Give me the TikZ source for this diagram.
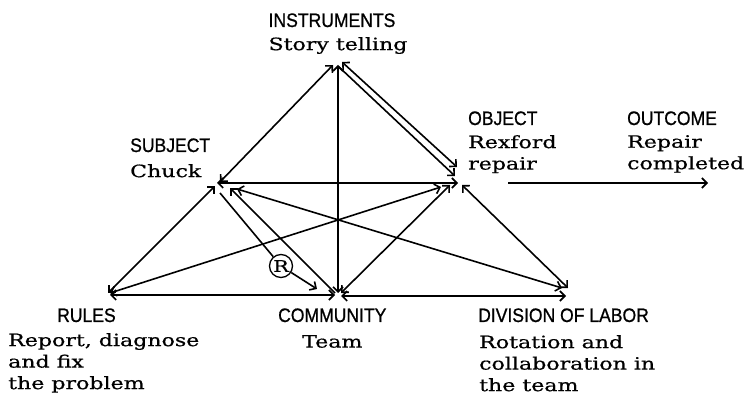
\documentclass[tikz,border=0pt]{standalone}
\usepackage{fontspec}
\setmainfont{DejaVu Serif}[FakeStretch=1.3, FakeBold=0.6]
\newfontfamily\capsfont{Liberation Sans}[FakeStretch=0.9, FakeBold=0.8]
\usetikzlibrary{arrows.meta}

\begin{document}
\begin{tikzpicture}[x=1pt, y=-1pt]
      % 画布
      \useasboundingbox (0,0) rectangle (753,403);

      % 定义样式
      \tikzstyle{caplabel} = [inner sep=0pt, font=\capsfont\fontsize{19.5}{21}\selectfont]
      \tikzstyle{textlabel} = [inner sep=0pt, align=left, font=\fontsize{17}{21.5}\selectfont]
      \tikzstyle{link} = [line width=1.6pt, >={Straight Barb[length=5pt, width=10pt]}]

      % 三角形的顶点
      \coordinate (inst) at (338, 63);
      \coordinate (subj) at (217, 183);
      \coordinate (obj) at (461, 183);
      \coordinate (rules) at (108, 295);
      \coordinate (comm) at (338, 295);
      \coordinate (div) at (567, 295);
      \coordinate (out1) at (508, 183);
      \coordinate (out2) at (708, 183);

      % 文字
      \node[caplabel, anchor=base] (instcap) at (332, 27) {INSTRUMENTS};
      \node[textlabel, anchor=north] (insttxt) at (338, 37) {Story telling};
      \node[caplabel, anchor=base west] (subjcap) at (130, 152) {SUBJECT};
      \node[textlabel, anchor=north west] (subjtxt) at (130, 164) {Chuck};
      \node[caplabel, anchor=base west] (objcap) at (468, 125) {OBJECT};
      \node[textlabel, anchor=north west] (objtxt) at (468, 135) {Rexford\\repair};
      \node[caplabel, anchor=base west] (outcap) at (627, 125) {OUTCOME};
      \node[textlabel, anchor=north west] (outtxt) at (627, 135) {Repair\\completed};
      \node[caplabel, anchor=base west] (rulescap) at (57, 322) {RULES};
      \node[textlabel, anchor=north west] (rulestxt) at (8, 333) {Report, diagnose\\and fix\\the problem};
      \node[caplabel, anchor=base west] (commcap) at (278, 322) {COMMUNITY};
      \node[textlabel, anchor=north west] (commtxt) at (302, 335) {Team};
      \node[caplabel, anchor=base west] (divcap) at (478, 322) {DIVISION OF LABOR};
      \node[textlabel, anchor=north west] (divtxt) at (479, 335) {Rotation and\\collaboration in\\the team};
      \node[draw, circle, line width=1.3pt, inner sep=0pt, minimum size=23pt, font=\fontsize{16}{16}\selectfont] (rmark) at (281, 266) {R};

      % 连线
      \draw[link, <->] ([shift={(3,-1)}]subj) -- ([shift={(-5,2)}]inst);
      \draw[link, <->] ([shift={(4,-1)}]inst) -- ([shift={(-4,-16)}]obj);
      \draw[link, ->] ([shift={(1,4)}]inst) -- ([shift={(-6,-7)}]obj);
      \draw[link, <->] ([shift={(0,2)}]inst) -- ([shift={(0,-2)}]comm);
      \draw[link, <->] (subj) -- ([shift={(-3,0)}]obj);
      \draw[link, <->] ([shift={(-2,3)}]subj) -- ([shift={(0,-2)}]rules);
      \draw[link, <-] ([shift={(13,5)}]subj) -- ([shift={(-3,-2)}]comm);
      \draw[link] ([shift={(3,10)}]subj) -- (rmark);
      \draw[link, ->] (rmark) -- ([shift={(-21,-6)}]comm);
      \draw[link, <->] ([shift={(20,6)}]subj) -- ([shift={(-5,-7)}]div);
      \draw[link, <->] ([shift={(2,-2)}]rules) -- ([shift={(-20,4)}]obj);
      \draw[link, <->] ([shift={(3,-2)}]comm) -- ([shift={(-11,2)}]obj);
      \draw[link, <->] ([shift={(1,2)}]obj) -- ([shift={(1,-7)}]div);
      \draw[link, <->] ([shift={(2,0)}]rules) -- ([shift={(-3,0)}]comm);
      \draw[link, <->] ([shift={(3,1)}]comm) -- ([shift={(-1,1)}]div);
      \draw[link, ->] (out1) -- (out2);
\end{tikzpicture}
\end{document}
